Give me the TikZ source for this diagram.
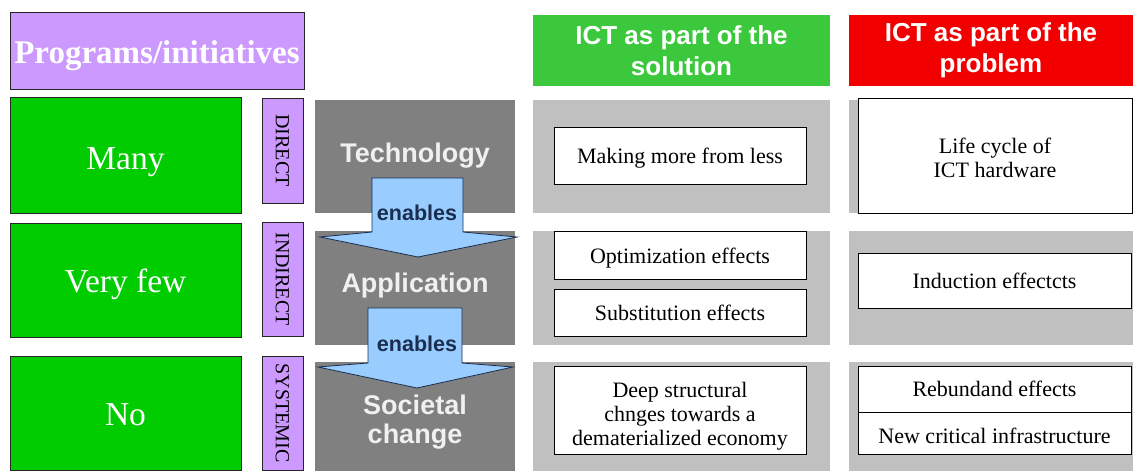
\documentclass[tikz,border=0pt]{standalone}
\usepackage{fontspec}
\setmainfont{Liberation Serif}
\setsansfont{Liberation Sans}
\usetikzlibrary{calc}

\definecolor{progpurple}{HTML}{CC99FF}
\definecolor{levelgreen}{HTML}{00CC00}
\definecolor{solgreen}{HTML}{3CC83C}
\definecolor{probred}{HTML}{F20000}
\definecolor{darkcell}{HTML}{808080}
\definecolor{lightcell}{HTML}{C0C0C0}
\definecolor{arrowblue}{HTML}{99CCFF}
\definecolor{arrownavy}{HTML}{1B2E4F}

% move the text of a node down by #1 and keep its box
\newcommand\lowered[2]{\raisebox{-#1}[\height][\depth]{#2}}

\tikzset{
  progbox/.style={draw=black!85, line width=0.9pt, fill=progpurple, text=white,
    font=\fontsize{33}{36}\selectfont\bfseries},
  levelbox/.style={draw=black!85, line width=0.9pt, fill=levelgreen, text=white,
    minimum width=231pt, font=\fontsize{33.5}{36}\selectfont},
  kindbox/.style={draw=black!85, line width=0.9pt, fill=progpurple, rotate=-90,
    minimum height=41pt, font=\fontsize{20}{22}\selectfont},
  stagecell/.style={fill=darkcell, text=white!94!black, minimum width=200pt,
    font=\sffamily\bfseries\fontsize{27}{30}\selectfont, align=center},
  solcell/.style={fill=lightcell, minimum width=297pt},
  probcell/.style={fill=lightcell, minimum width=284pt},
  headbox/.style={text=white, minimum height=71pt, align=center,
    font=\sffamily\bfseries\fontsize{26}{31}\selectfont},
  effectbox/.style={draw=black, line width=1pt, fill=white, align=center,
    font=\fontsize{22}{24}\selectfont},
  enablearrow/.style={draw=arrownavy, line width=0.8pt, fill=arrowblue},
  enabletext/.style={text=arrownavy, font=\sffamily\bfseries\fontsize{21.5}{23}\selectfont}
}

\begin{document}
\begin{tikzpicture}[x=1pt, y=-1pt, inner sep=0pt, outer sep=0pt]
  \useasboundingbox (0,0) rectangle (1133,471);

  % left: programs and levels
  \node[progbox, minimum width=294pt, minimum height=77pt] (prog) at (157,50.5) {\lowered{5pt}{Programs/initiatives}};
  \node[levelbox, minimum height=116pt] (many) at (125.5,155) {\lowered{7pt}{Many}};
  \node[levelbox, minimum height=114pt] (veryfew) at (125.5,280) {\lowered{4pt}{Very few}};
  \node[levelbox, minimum height=114pt] (no) at (125.5,413) {\lowered{2pt}{No}};

  \node[kindbox, minimum width=105pt] (direct) at (282.5,150.5) {DIRECT};
  \node[kindbox, minimum width=114pt] (indirect) at (282.5,279) {INDIRECT};
  \node[kindbox, minimum width=114pt] (systemic) at (282.5,413) {SYSTEMIC};

  % stages
  \node[stagecell, minimum height=113pt] (tech) at (415,156.5) {\lowered{-1pt}{Technology}};
  \node[stagecell, minimum height=114pt] (appl) at (415,288) {\lowered{-2pt}{Application}};
  \node[stagecell, minimum height=109pt] (soc) at (415,416.5) {\lowered{6pt}{\begin{tabular}{@{}c@{}}Societal\\[-1pt]change\end{tabular}}};

  \draw[enablearrow] (372,178) -- (463,178) -- (463,232) -- (517,237) -- (418,257)
    -- (320,237) -- (372,232) -- cycle;
  \draw[enablearrow] (368,308) -- (462,308) -- (462,363) -- (513,367) -- (417,388)
    -- (318,367) -- (368,363) -- cycle;
  \node[enabletext] (enab1) at (417,213) {enables};
  \node[enabletext] (enab2) at (417,344) {enables};

  % headers
  \node[headbox, fill=solgreen, minimum width=297pt] (hsol) at (681.5,50.5) {ICT as part of the\\solution};
  \node[headbox, fill=probred, minimum width=284pt] (hprob) at (991,50.5) {ICT as part of the\\problem};

  % cells
  \node[solcell, minimum height=113pt] (solA) at (681.5,156.5) {};
  \node[solcell, minimum height=114pt] (solB) at (681.5,288) {};
  \node[solcell, minimum height=109pt] (solC) at (681.5,416.5) {};
  \node[probcell, minimum height=113pt] (probA) at (991,156.5) {};
  \node[probcell, minimum height=114pt] (probB) at (991,288) {};
  \node[probcell, minimum height=109pt] (probC) at (991,416.5) {};

  % effects
  \node[effectbox, minimum width=252pt, minimum height=57pt] (making) at (680,155.5) {\lowered{3pt}{Making more from less}};
  \node[effectbox, minimum width=252pt, minimum height=48pt] (optim) at (680,255) {\lowered{3pt}{Optimization effects}};
  \node[effectbox, minimum width=252pt, minimum height=47pt] (subst) at (680,312.5) {Substitution effects};
  \node[effectbox, minimum width=252pt, minimum height=88pt] (deep) at (680,410) {\lowered{7pt}{\begin{tabular}{@{}c@{}}Deep structural\\chnges towards a\\dematerialized economy\end{tabular}}};

  \node[effectbox, minimum width=274pt, minimum height=115pt] (life) at (995,155.5) {\lowered{5pt}{\begin{tabular}{@{}c@{}}Life cycle of\\ICT hardware\end{tabular}}};
  \node[effectbox, minimum width=273pt, minimum height=55pt] (induct) at (994.5,280.5) {Induction effectcts};
  \node[effectbox, minimum width=273pt, minimum height=46pt] (rebund) at (994.5,389) {Rebundand effects};
  \node[effectbox, minimum width=273pt, minimum height=42pt] (newcrit) at (994.5,433) {\lowered{3pt}{New critical infrastructure}};
\end{tikzpicture}
\end{document}
